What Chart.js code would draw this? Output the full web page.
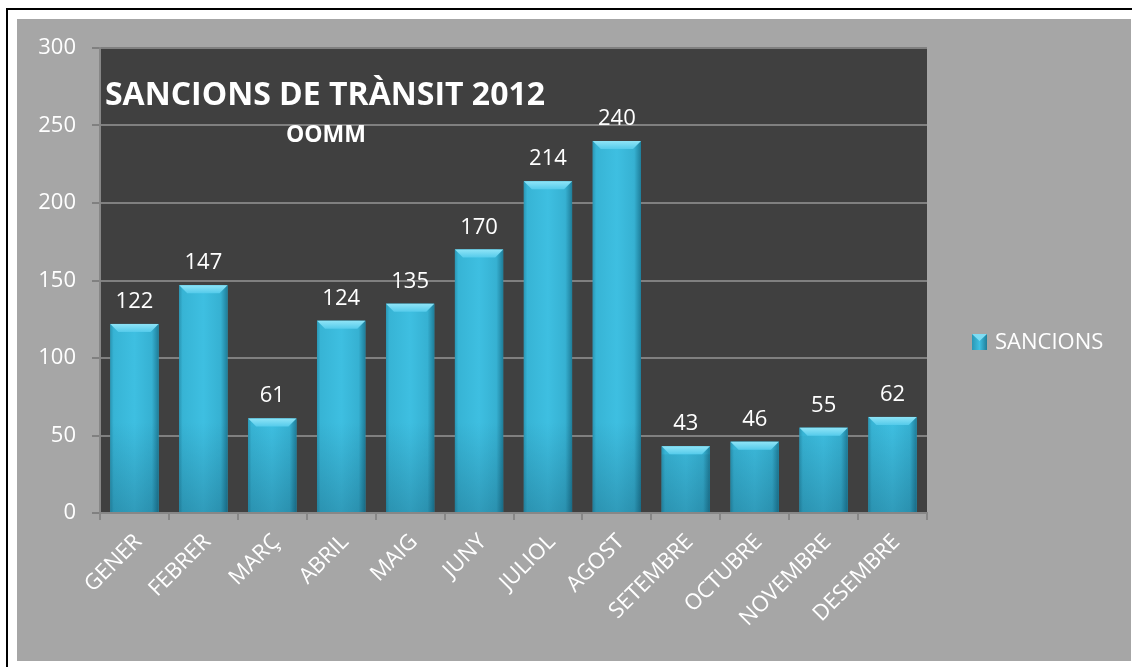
<!DOCTYPE html>
<html><head><meta charset="utf-8">
<script src="https://cdn.jsdelivr.net/npm/chart.js@4.4.1/dist/chart.umd.min.js"></script>
<style>html,body{margin:0;padding:0;background:#fff;overflow:hidden}#wrap{width:1132px;height:667px;position:relative}</style>
</head><body><div id="wrap"><canvas id="c" width="1132" height="667"></canvas></div>
<script>
const categories = ['GENER','FEBRER','MARÇ','ABRIL','MAIG','JUNY','JULIOL','AGOST','SETEMBRE','OCTUBRE','NOVEMBRE','DESEMBRE'];
const sancions = [122,147,61,124,135,170,214,240,43,46,55,62];
const seriesName = 'SANCIONS';
const titleText = 'SANCIONS DE TRÀNSIT 2012';
const subtitleText = 'OOMM';
const yMin = 0, yMax = 300, yStep = 50;

const FONT = "'Open Sans', 'DejaVu Sans', sans-serif";

const decor = {
  id: 'decor',
  beforeDraw(chart) {
    const ctx = chart.ctx, ca = chart.chartArea;
    ctx.save();
    ctx.fillStyle = '#ffffff';
    ctx.fillRect(0, 0, chart.width, chart.height);
    ctx.fillStyle = '#000000';
    ctx.fillRect(6, 8, chart.width - 6, 2);
    ctx.fillRect(6, 8, 2, chart.height - 8);
    ctx.fillStyle = '#a6a6a6';
    ctx.fillRect(17, 19, 1131 - 17, 661 - 19);
    ctx.fillStyle = '#404040';
    ctx.fillRect(ca.left, ca.top, ca.right - ca.left, ca.bottom - ca.top);
    ctx.restore();
  },
  afterDatasetsDraw(chart) {
    const ctx = chart.ctx;
    const meta = chart.getDatasetMeta(0);
    const ds = chart.data.datasets[0];
    ctx.save();
    meta.data.forEach((el, i) => {
      const p = el.getProps(['x', 'y', 'base', 'width'], true);
      const l = p.x - p.width / 2, r = p.x + p.width / 2, t = p.y, b = p.base;
      let g = ctx.createLinearGradient(l, 0, r, 0);
      g.addColorStop(0, '#2a97b5');
      g.addColorStop(0.07, '#37b4d5');
      g.addColorStop(0.5, '#3ebfe1');
      g.addColorStop(0.86, '#36b1d2');
      g.addColorStop(1, '#1f7e9a');
      ctx.fillStyle = g;
      ctx.fillRect(l, t, r - l, b - t);
      const vt = Math.max(t + 8, b - 90);
      let v = ctx.createLinearGradient(0, b - 90, 0, b);
      v.addColorStop(0, 'rgba(0,30,50,0)');
      v.addColorStop(1, 'rgba(0,30,50,0.22)');
      ctx.fillStyle = v;
      ctx.fillRect(l, vt, r - l, b - vt);
      ctx.beginPath();
      ctx.moveTo(l, t); ctx.lineTo(r, t); ctx.lineTo(r - 8, t + 8); ctx.lineTo(l + 8, t + 8); ctx.closePath();
      let cg = ctx.createLinearGradient(0, t, 0, t + 8);
      cg.addColorStop(0, '#8fe4f7');
      cg.addColorStop(1, '#55cbeb');
      ctx.fillStyle = cg;
      ctx.fill();
      ctx.fillStyle = '#ffffff';
      ctx.font = '22px ' + FONT;
      ctx.textAlign = 'center';
      ctx.textBaseline = 'alphabetic';
      ctx.fillText(String(ds.data[i]), p.x, t - 16);
    });
    ctx.fillStyle = '#ffffff';
    ctx.textAlign = 'center';
    ctx.font = 'bold 32px ' + FONT;
    ctx.fillText(titleText, 325, 105);
    ctx.font = 'bold 23px ' + FONT;
    ctx.fillText(subtitleText, 326, 142);
    ctx.restore();
  },
  afterDraw(chart) {
    const ctx = chart.ctx;
    const ds = chart.data.datasets[0];
    ctx.save();
    const mx = 972, my = 334, mw = 15, mh = 16;
    let g = ctx.createLinearGradient(mx, 0, mx + mw, 0);
    g.addColorStop(0, '#2a97b5'); g.addColorStop(0.5, '#3ebfe1'); g.addColorStop(1, '#1f7e9a');
    ctx.fillStyle = g;
    ctx.fillRect(mx, my, mw, mh);
    ctx.beginPath();
    ctx.moveTo(mx, my); ctx.lineTo(mx + mw, my); ctx.lineTo(mx + mw / 2, my + 7); ctx.closePath();
    ctx.fillStyle = '#7fdcf3';
    ctx.fill();
    ctx.fillStyle = '#ffffff';
    ctx.font = '22px ' + FONT;
    ctx.textAlign = 'left';
    ctx.textBaseline = 'middle';
    ctx.fillText(ds.label, 995, my + mh / 2 + 1);
    ctx.restore();
  }
};

new Chart(document.getElementById('c'), {
  type: 'bar',
  data: {
    labels: categories,
    datasets: [{
      label: seriesName,
      data: sancions,
      backgroundColor: '#36b3d4',
      borderWidth: 0,
      barPercentage: 0.7,
      categoryPercentage: 1
    }]
  },
  options: {
    responsive: false,
    animation: false,
    layout: { padding: { top: 48, right: 205, left: 0, bottom: 0 } },
    plugins: { legend: { display: false }, tooltip: { enabled: false } },
    scales: {
      x: {
        grid: { offset: true, drawOnChartArea: false, color: '#878787', lineWidth: 2, tickLength: 7 },
        border: { color: '#878787', width: 2 },
        ticks: { color: '#ffffff', font: { family: FONT, size: 22 }, maxRotation: 45, minRotation: 45, autoSkip: false, padding: 9, labelOffset: 4 },
        afterFit: s => { s.height = 154; }
      },
      y: {
        min: yMin, max: yMax,
        ticks: { stepSize: yStep, color: '#ffffff', font: { family: FONT, size: 22 }, padding: 16 },
        grid: { color: '#808080', lineWidth: 2, tickLength: 8 },
        border: { color: '#878787', width: 2 },
        afterFit: s => { s.width = 100; }
      }
    }
  },
  plugins: [decor]
});
</script>
</body></html>
